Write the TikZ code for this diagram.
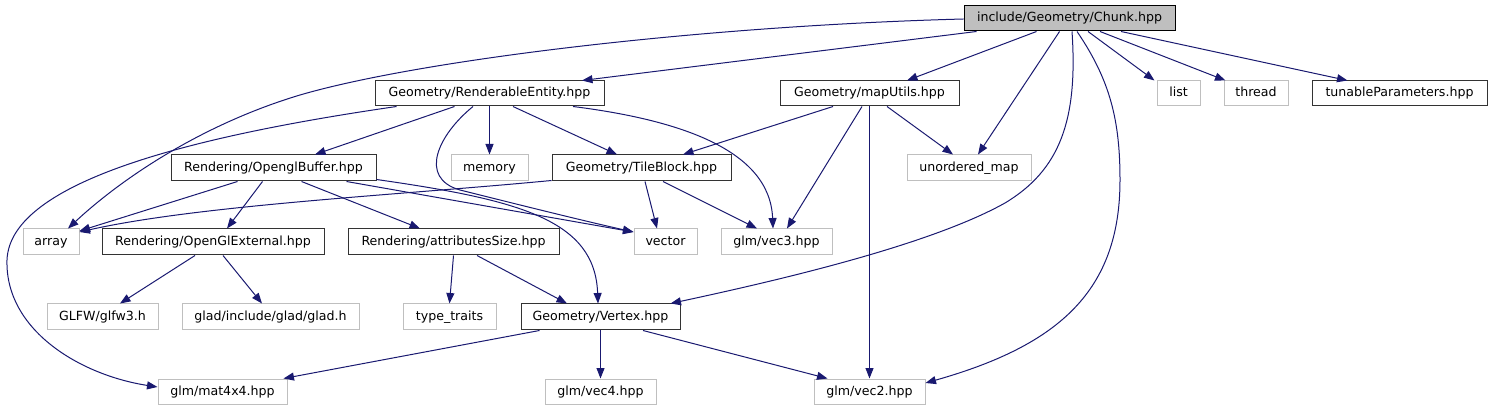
\documentclass[tikz,border=0pt]{standalone}
\usepackage{fontspec}
\setmainfont{DejaVu Sans}
\usetikzlibrary{arrows.meta,calc}
\definecolor{edgec}{HTML}{191970}
\definecolor{grayb}{HTML}{BFBFBF}
\begin{document}
\begin{tikzpicture}[x=1pt,y=-1pt,
  box/.style={draw=black!80,line width=1pt,rectangle,inner sep=0pt,minimum height=25pt,font=\fontsize{12.6}{15}\selectfont,text=black,text height=9.6pt,text depth=2.6pt},
  ext/.style={box,draw=grayb},
  root/.style={box,draw=black,fill=grayb},
  dep/.style={draw=edgec,line width=1pt,-{Triangle[length=10.5pt,width=8pt]},edgec}]
\useasboundingbox (0,0) rectangle (1493,411);
% row 0
\node[root,minimum width=211pt] (chunk) at (1069.5,18.5) {include/Geometry/Chunk.hpp};
% row 1
\node[box,minimum width=229pt] (re) at (489.5,93.5) {Geometry/RenderableEntity.hpp};
\node[box,minimum width=179pt] (map) at (869.5,93.5) {Geometry/mapUtils.hpp};
\node[ext,minimum width=43pt] (list) at (1178.5,93.5) {list};
\node[ext,minimum width=64pt] (thread) at (1256,93.5) {thread};
\node[box,minimum width=175pt] (tun) at (1399.5,93.5) {tunableParameters.hpp};
% row 2
\node[box,minimum width=205pt,minimum height=26pt] (ogb) at (273.5,168) {Rendering/OpenglBuffer.hpp};
\node[ext,minimum width=77pt,minimum height=26pt] (memory) at (489.5,168) {memory};
\node[box,minimum width=179pt,minimum height=26pt] (tile) at (641.5,168) {Geometry/TileBlock.hpp};
\node[ext,minimum width=124pt,minimum height=26pt] (umap) at (969,168) {unordered\_map};
% row 3
\node[ext,minimum width=56pt,minimum height=26pt] (array) at (51,242) {array};
\node[box,minimum width=222pt,minimum height=26pt] (ogle) at (213,242) {Rendering/OpenGlExternal.hpp};
\node[box,minimum width=211pt,minimum height=26pt] (attr) at (453.5,242) {Rendering/attributesSize.hpp};
\node[ext,minimum width=63pt,minimum height=26pt] (vector) at (665.5,242) {vector};
\node[ext,minimum width=111pt,minimum height=26pt] (vec3) at (776.5,242) {glm/vec3.hpp};
% row 4
\node[ext,minimum width=111pt,minimum height=26pt] (glfw) at (102.5,317) {GLFW/glfw3.h};
\node[ext,minimum width=177pt,minimum height=26pt] (glad) at (270.5,317) {glad/include/glad/glad.h};
\node[ext,minimum width=93pt,minimum height=26pt] (tt) at (449.5,317) {type\_traits};
\node[box,minimum width=159pt,minimum height=26pt] (vertex) at (600.5,317) {Geometry/Vertex.hpp};
% row 5
\node[ext,minimum width=129pt] (mat) at (222.5,391.5) {glm/mat4x4.hpp};
\node[ext,minimum width=111pt] (vec4) at (600.5,391.5) {glm/vec4.hpp};
\node[ext,minimum width=111pt] (vec2) at (869.5,391.5) {glm/vec2.hpp};
% edges from Chunk
\draw[dep] ([yshift=-0.5pt]chunk.west) .. controls (700,26) and (420,60) .. (300,95) .. controls (200,125) and (120,180) .. ([xshift=17pt]array.north);
\draw[dep] ([xshift=13pt]chunk.south west) -- ([xshift=92.5pt]re.north);
\draw[dep] ([xshift=73pt]chunk.south west) -- ([xshift=37.5pt]map.north);
\draw[dep] ([xshift=96pt]chunk.south west) -- ([xshift=9pt]umap.north);
\draw[dep] ([xshift=2.5pt]chunk.south) .. controls (1078,120) and (1060,170) .. (1005,203) .. controls (930,245) and (780,280) .. ([xshift=70pt]vertex.north);
\draw[dep] ([xshift=7.5pt]chunk.south) .. controls (1110,80) and (1120,120) .. (1120,180) .. controls (1120,290) and (1060,345) .. ([yshift=8.5pt]vec2.east);
\draw[dep] ([xshift=18.5pt]chunk.south) -- ([xshift=-2pt]list.north west);
\draw[dep] ([xshift=30.5pt]chunk.south) -- ([xshift=2pt]thread.north west);
\draw[dep] ([xshift=51.5pt]chunk.south) -- ([xshift=36pt]tun.north west);
% edges from RenderableEntity
\draw[dep] ([xshift=22pt]re.south west) .. controls (200,135) and (10,180) .. (7,260) .. controls (5,330) and (80,375) .. ([yshift=4.5pt]mat.west);
\draw[dep] ([xshift=80pt]re.south west) -- ([xshift=41.5pt]ogb.north);
\draw[dep] (re.south) -- (memory.north);
\draw[dep] ([xshift=23.5pt]re.south) -- ([xshift=-24.5pt]tile.north);
\draw[dep] ([xshift=83.5pt]re.south) .. controls (680,120) and (770,150) .. ([xshift=-3.5pt]vec3.north);
\draw[dep] ([xshift=-16.5pt]re.south) .. controls (438,135) and (418,178) .. (460,190) .. controls (520,205) and (580,220) .. ([yshift=10pt]vector.west);
% edges from mapUtils
\draw[dep] ([xshift=-36.5pt]map.south) -- ([xshift=41.5pt]tile.north);
\draw[dep] ([xshift=-7.5pt]map.south) -- ([xshift=10.5pt]vec3.north);
\draw[dep] ([xshift=17.5pt]map.south) -- ([xshift=-16pt]umap.north);
\draw[dep] (map.south) -- (vec2.north);
% edges from OpenglBuffer
\draw[dep] ([xshift=67pt]ogb.south west) -- ([yshift=11pt]array.east);
\draw[dep] ([xshift=92pt]ogb.south west) -- ([xshift=14pt]ogle.north);
\draw[dep] ([xshift=131pt]ogb.south west) -- ([xshift=-33.5pt]attr.north);
\draw[dep] ([xshift=176pt]ogb.south west) -- ([yshift=10pt]vector.west);
\draw[dep] ([yshift=2pt]ogb.south east) .. controls (520,200) and (595,220) .. ([xshift=-2.5pt]vertex.north);
% edges from TileBlock
\draw[dep] ([yshift=1pt]tile.south west) .. controls (400,195) and (200,205) .. ([yshift=10pt]array.east);
\draw[dep] ([xshift=3.5pt]tile.south) -- ([xshift=-8.5pt]vector.north);
\draw[dep] ([xshift=21.5pt]tile.south) -- ([xshift=-19.5pt]vec3.north);
% edges from OpenGlExternal
\draw[dep] ([xshift=-18pt]ogle.south) -- ([xshift=17.5pt]glfw.north);
\draw[dep] ([xshift=10pt]ogle.south) -- ([xshift=-8.5pt]glad.north);
% edges from attributesSize
\draw[dep] (attr.south) -- (tt.north);
\draw[dep] ([xshift=23.5pt]attr.south) -- ([xshift=-33.5pt]vertex.north);
% edges from Vertex
\draw[dep] ([xshift=19pt]vertex.south west) -- ([xshift=-4pt]mat.north east);
\draw[dep] (vertex.south) -- (vec4.north);
\draw[dep] ([xshift=42.5pt]vertex.south) -- ([xshift=14pt]vec2.north west);
\end{tikzpicture}
\end{document}
